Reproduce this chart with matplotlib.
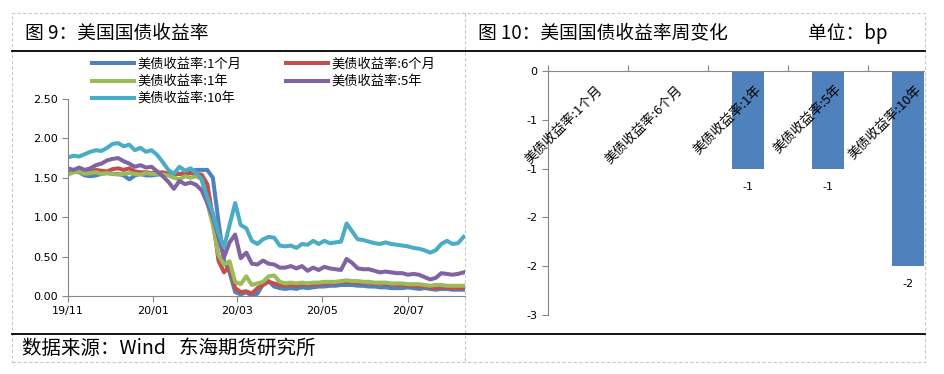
import numpy as np
import pandas as pd
import matplotlib
matplotlib.use('Agg')
import matplotlib.pyplot as plt
import matplotlib.dates as mdates
from matplotlib.ticker import FuncFormatter
from matplotlib.lines import Line2D
from matplotlib.patches import Rectangle

plt.rcParams['font.family'] = ['DejaVu Sans', 'Noto Sans CJK SC']
CJK = ['Noto Sans CJK SC', 'DejaVu Sans']

# ---------------- data ----------------
# 图9 美债收益率 (roughly every 4 days, 2019-11-01 .. 2020-08-10)
dates = pd.date_range('2019-11-01', '2020-08-10', periods=72)

y_1m = [1.55, 1.58, 1.57, 1.53, 1.52, 1.53, 1.55, 1.56, 1.55, 1.55,
        1.53, 1.48, 1.53, 1.55, 1.53, 1.53, 1.54, 1.55, 1.55, 1.56,
        1.55, 1.56, 1.58, 1.60, 1.60, 1.60, 1.50, 0.95, 0.45, 0.30,
        0.05, 0.02, 0.05, 0.00, 0.03, 0.15, 0.19, 0.12, 0.10, 0.09,
        0.10, 0.09, 0.11, 0.10, 0.11, 0.12, 0.12, 0.13, 0.13, 0.14,
        0.14, 0.14, 0.13, 0.13, 0.12, 0.12, 0.11, 0.11, 0.10, 0.10,
        0.10, 0.11, 0.10, 0.09, 0.10, 0.09, 0.08, 0.09, 0.09, 0.08,
        0.08, 0.08]
y_6m = [1.57, 1.58, 1.58, 1.55, 1.58, 1.60, 1.59, 1.58, 1.61, 1.62,
        1.60, 1.62, 1.58, 1.57, 1.57, 1.56, 1.56, 1.57, 1.55, 1.54,
        1.55, 1.55, 1.56, 1.55, 1.54, 1.42, 1.00, 0.45, 0.30, 0.38,
        0.10, 0.05, 0.06, 0.03, 0.10, 0.14, 0.18, 0.16, 0.14, 0.13,
        0.14, 0.13, 0.15, 0.14, 0.15, 0.15, 0.16, 0.17, 0.17, 0.18,
        0.18, 0.18, 0.17, 0.17, 0.17, 0.16, 0.16, 0.15, 0.15, 0.14,
        0.14, 0.13, 0.13, 0.12, 0.12, 0.11, 0.10, 0.11, 0.11, 0.10,
        0.10, 0.10]
y_1y = [1.54, 1.57, 1.58, 1.55, 1.56, 1.57, 1.55, 1.56, 1.55, 1.54,
        1.55, 1.56, 1.55, 1.54, 1.56, 1.55, 1.55, 1.54, 1.53, 1.50,
        1.48, 1.52, 1.50, 1.52, 1.48, 1.18, 0.90, 0.52, 0.40, 0.44,
        0.18, 0.15, 0.25, 0.14, 0.16, 0.18, 0.25, 0.26, 0.18, 0.16,
        0.17, 0.16, 0.17, 0.16, 0.17, 0.17, 0.18, 0.18, 0.18, 0.19,
        0.20, 0.19, 0.19, 0.18, 0.18, 0.17, 0.17, 0.17, 0.16, 0.16,
        0.16, 0.15, 0.15, 0.15, 0.14, 0.13, 0.14, 0.14, 0.13, 0.13,
        0.13, 0.13]
y_5y = [1.62, 1.60, 1.63, 1.60, 1.62, 1.66, 1.68, 1.72, 1.74, 1.75,
        1.71, 1.68, 1.64, 1.66, 1.63, 1.64, 1.58, 1.52, 1.45, 1.36,
        1.46, 1.42, 1.44, 1.41, 1.34, 1.18, 1.00, 0.75, 0.49, 0.68,
        0.78, 0.48, 0.55, 0.41, 0.40, 0.45, 0.41, 0.40, 0.36, 0.36,
        0.38, 0.35, 0.38, 0.32, 0.36, 0.33, 0.37, 0.35, 0.34, 0.33,
        0.47, 0.42, 0.35, 0.34, 0.34, 0.32, 0.30, 0.31, 0.30, 0.29,
        0.29, 0.27, 0.28, 0.27, 0.24, 0.21, 0.23, 0.29, 0.28, 0.27,
        0.28, 0.30]
y_10y = [1.76, 1.78, 1.77, 1.80, 1.83, 1.85, 1.84, 1.88, 1.93, 1.94,
         1.90, 1.92, 1.85, 1.88, 1.83, 1.85, 1.79, 1.70, 1.60, 1.55,
         1.64, 1.59, 1.62, 1.56, 1.48, 1.25, 1.05, 0.80, 0.62, 0.90,
         1.18, 0.90, 0.86, 0.70, 0.66, 0.72, 0.75, 0.74, 0.64, 0.63,
         0.64, 0.61, 0.66, 0.65, 0.70, 0.66, 0.70, 0.67, 0.68, 0.69,
         0.92, 0.82, 0.72, 0.71, 0.69, 0.67, 0.66, 0.68, 0.66, 0.65,
         0.64, 0.63, 0.61, 0.60, 0.58, 0.55, 0.58, 0.66, 0.70, 0.66,
         0.67, 0.75]

series_names = ['美债收益率:1个月', '美债收益率:6个月', '美债收益率:1年',
                '美债收益率:5年', '美债收益率:10年']
series_colors = ['#4F81BD', '#C0504D', '#9BBB59', '#8064A2', '#4BACC6']
x_ticks = ['2019-11-01', '2020-01-01', '2020-03-01', '2020-05-01', '2020-07-01']

# 图10 周变化 (bp)
bar_change = [0, 0, -1.2, -1.2, -2.4]
bar_color = '#4F81BD'

# ---------------- figure ----------------
W, H = 944, 374
fig = plt.figure(figsize=(W / 100, H / 100), dpi=100)

def fx(x):
    return x / W

def fy(y):
    return 1 - y / H

# dashed frames and black rules
fig.add_artist(Rectangle((fx(12), fy(362)), fx(925) - fx(12), fy(13) - fy(362),
                         fill=False, ec='#c8c8c8', lw=0.8, ls=(0, (3, 2)),
                         transform=fig.transFigure))
fig.add_artist(Line2D([fx(465), fx(465)], [fy(13), fy(362)], color='#c8c8c8',
                      lw=0.8, ls=(0, (3, 2))))
for yy in (51, 334):
    fig.add_artist(Line2D([fx(12), fx(925)], [fy(yy), fy(yy)], color='black', lw=1.3))

fig.text(fx(25), fy(33), '图 9：美国国债收益率', family=CJK, fontsize=13.5, va='center')
fig.text(fx(478), fy(33), '图 10：美国国债收益率周变化', family=CJK, fontsize=13.5, va='center')
fig.text(fx(808), fy(33), '单位：bp', family=CJK, fontsize=13.5, va='center')
fig.text(fx(22), fy(348), '数据来源：Wind   东海期货研究所', family=CJK, fontsize=14, va='center')

axis_gray = '#868686'

# ---- left: yields ----
ax1 = fig.add_axes([fx(68), fy(296), (465 - 68) / W, (296 - 99) / H])
all_y = [y_1m, y_6m, y_1y, y_5y, y_10y]
handles = []
for vals, name, c in zip(all_y, series_names, series_colors):
    h, = ax1.plot(dates, vals, color=c, lw=2.9, label=name)
    handles.append(h)

ax1.set_ylim(0, 2.5)
ax1.set_yticks(np.arange(0, 2.51, 0.5))
ax1.yaxis.set_major_formatter(FuncFormatter(lambda v, _: f'{v:.2f}'))
ax1.set_xlim(pd.Timestamp('2019-11-01'), pd.Timestamp('2020-08-11'))
ax1.set_xticks(pd.to_datetime(x_ticks))
ax1.xaxis.set_major_formatter(mdates.DateFormatter('%y/%m'))
for s in ('top', 'right'):
    ax1.spines[s].set_visible(False)
for s in ('left', 'bottom'):
    ax1.spines[s].set_color(axis_gray)
ax1.tick_params(color=axis_gray, length=4, width=0.8, labelsize=8, pad=3)

order = [0, 2, 4, 1, 3]
ax1.legend([handles[i] for i in order], [series_names[i] for i in order],
           ncol=2, frameon=False, prop={'family': CJK, 'size': 9.5},
           loc='upper left', bbox_to_anchor=(fx(92), fy(58)),
           bbox_transform=fig.transFigure, borderaxespad=0, borderpad=0,
           handlelength=3.2, handletextpad=0.25, columnspacing=3.35,
           labelspacing=0.32)

# ---- right: weekly change ----
ax2 = fig.add_axes([fx(548), fy(315), (924 - 548) / W, (315 - 71) / H])
pos = np.arange(len(bar_change))
ax2.bar(pos, bar_change, width=0.4, color=bar_color)
ax2.set_xlim(-0.5, 4.2)
ax2.set_ylim(-3, 0)
ax2.set_yticks(np.linspace(0, -3, 6))
ax2.yaxis.set_major_formatter(FuncFormatter(lambda v, _: f'{v:.0f}'))
ax2.xaxis.tick_top()
ax2.set_xticks(pos - 0.5)
ax2.set_xticklabels([])
for s in ('bottom', 'right'):
    ax2.spines[s].set_visible(False)
for s in ('left', 'top'):
    ax2.spines[s].set_color(axis_gray)
ax2.tick_params(color=axis_gray, length=4, width=0.8, labelsize=8)

for i, name in enumerate(series_names):
    ax2.annotate(name, (i, 0), xytext=(12 * 0.72, -17 * 0.72),
                 textcoords='offset points', rotation=45, rotation_mode='anchor',
                 ha='right', va='center', family=CJK, fontsize=9.5)
for i, v in enumerate(bar_change):
    if v != 0:
        ax2.annotate(f'{v:.0f}', (i, v), xytext=(0, -13), textcoords='offset points',
                     ha='center', va='center', fontsize=8)

fig.savefig('out.png', dpi=100)
